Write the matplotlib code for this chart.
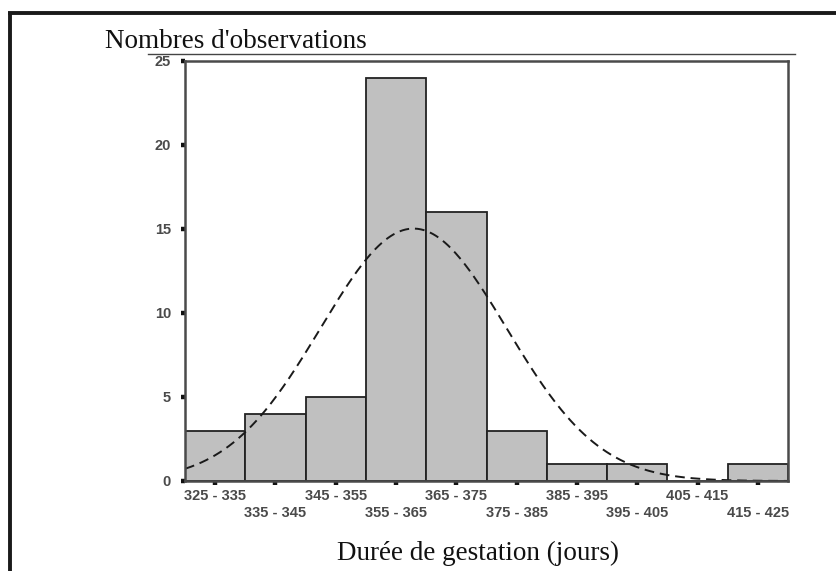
import numpy as np
import matplotlib
matplotlib.use("Agg")
import matplotlib.pyplot as plt
from matplotlib.lines import Line2D

# Histogram of gestation length (days)
bin_edges = [325, 335, 345, 355, 365, 375, 385, 395, 405, 415, 425]
counts = [3, 4, 5, 24, 16, 3, 1, 1, 0, 1]
bin_labels = ["325 - 335", "335 - 345", "345 - 355", "355 - 365", "365 - 375",
              "375 - 385", "385 - 395", "395 - 405", "405 - 415", "415 - 425"]
y_ticks = [0, 5, 10, 15, 20, 25]

# Fitted normal curve parameters
fit_mean = 362.9
fit_sd = 15.4
n_obs = sum(counts)

W, H = 837, 571
fig = plt.figure(figsize=(W / 100, H / 100), dpi=100)
serif = ["Liberation Serif", "DejaVu Serif"]
sans = ["Liberation Sans", "DejaVu Sans"]

# Plot area in pixel coordinates
left, right, top, bottom = 185, 788, 61, 481
ax = fig.add_axes([left / W, (H - bottom) / H, (right - left) / W, (bottom - top) / H])

edges = np.array(bin_edges, dtype=float)
widths = np.diff(edges)
ax.bar(edges[:-1], counts, width=widths, align="edge",
       color="#c0c0c0", edgecolor="#222222", linewidth=1.3, zorder=2)

# Normal density scaled to counts per bin
bw = widths[0]
xs = np.linspace(edges[0], edges[-1], 400)
ys = n_obs * bw / (fit_sd * np.sqrt(2 * np.pi)) * np.exp(-0.5 * ((xs - fit_mean) / fit_sd) ** 2)
ax.plot(xs, ys, color="#1a1a1a", lw=1.4, linestyle=(0, (5, 3)), zorder=3)

ax.set_xlim(edges[0], edges[-1])
ax.set_ylim(0, 25)

for s in ax.spines.values():
    s.set_color("#4a4a4a")
    s.set_linewidth(1.8)
    s.set_zorder(4)

centers = (edges[:-1] + edges[1:]) / 2
ax.set_xticks(centers)
ax.set_xticklabels([lab if i % 2 == 0 else "\n" + lab for i, lab in enumerate(bin_labels)],
                   family=sans, fontsize=10.5, color="#4a4a4a", fontweight="bold",
                   linespacing=1.2)
ax.set_yticks(y_ticks)
ax.set_yticklabels([str(v) for v in y_ticks], family=sans, fontsize=10.5,
                   color="#4a4a4a", fontweight="bold")
ax.tick_params(axis="both", direction="out", length=3, width=3.2, color="#111111")
ax.tick_params(axis="x", pad=3)
ax.tick_params(axis="y", pad=7)

# Titles
fig.text(105 / W, 1 - 41 / H, "Nombres d'observations", family=serif, fontsize=19.5,
         ha="left", va="center", color="#111111")
fig.text(478 / W, 1 - 553 / H, "Durée de gestation (jours)", family=serif, fontsize=19.5,
         ha="center", va="center", color="#111111")

# Rule under the title
fig.add_artist(Line2D([148 / W, 795 / W], [1 - 54 / H, 1 - 54 / H],
                      transform=fig.transFigure, color="#444444", lw=1.0))

# Frame on top and left
fig.add_artist(Line2D([8 / W, 1.0], [1 - 13 / H, 1 - 13 / H],
                      transform=fig.transFigure, color="#1a1a1a", lw=2.8,
                      solid_capstyle="butt"))
fig.add_artist(Line2D([10 / W, 10 / W], [1 - 11.5 / H, 0.0],
                      transform=fig.transFigure, color="#1a1a1a", lw=2.8,
                      solid_capstyle="butt"))

fig.savefig("out.png", dpi=100)
